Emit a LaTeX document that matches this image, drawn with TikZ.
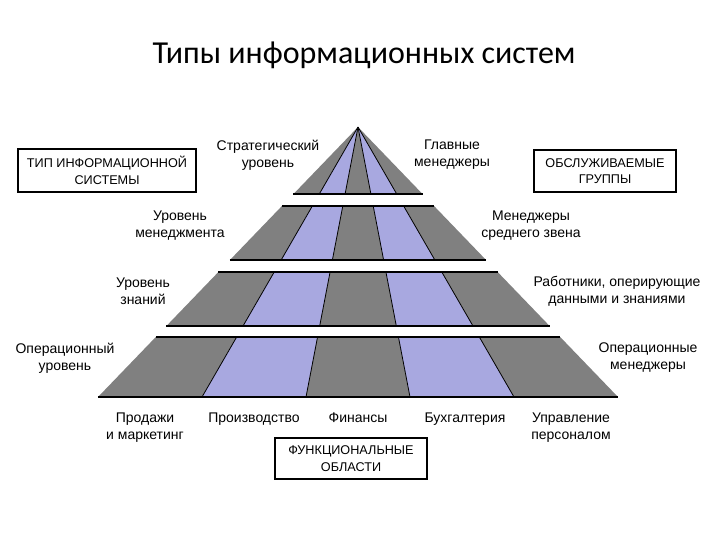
\documentclass[tikz,border=0pt]{standalone}
\usepackage{fontspec}
\setmainfont{Liberation Sans}
\newfontfamily\titlefont{Carlito}
\usetikzlibrary{positioning}
\definecolor{stripegray}{RGB}{128,128,128}
\definecolor{stripeblue}{RGB}{168,168,224}

\begin{document}
\begin{tikzpicture}[x=0.75pt, y=-0.75pt,
        lbl/.style={align=center, inner sep=0pt, font=\fontsize{10.5}{12.75}\selectfont},
        capbox/.style={draw, line width=1pt, align=center, inner sep=0pt,
            font=\fontsize{9.5}{12.5}\selectfont}]
        \useasboundingbox (0,0) rectangle (720,540);
        \coordinate (apex) at (358,127);
        % pyramid sectors
        \foreach \i/\col in {0/stripegray,1/stripeblue,2/stripegray,3/stripeblue,4/stripegray}
            \fill[\col] (apex) -- ({98+104*\i},397) -- ({98+104*(\i+1)},397) -- cycle;
        \foreach \i in {1,...,4}
            \draw[black, line width=0.6pt] (apex) -- ({98+104*\i},397);
        % gaps between levels
        \foreach \ya/\yb in {194/206, 260/272, 326/337}
            \fill[white] (80,\ya) rectangle (640,\yb);
        \foreach \yy in {194,206,260,272,326,337,397}
            \draw[black, line width=0.8pt] ({358-0.963*(\yy-127)},\yy) -- ({358+0.963*(\yy-127)},\yy);
        % title
        \node[font=\titlefont\fontsize{24}{28}\selectfont] (title) at (364,55) {Типы информационных систем};
        % boxes
        \node[capbox, minimum width=133.5pt, minimum height=32.25pt] (typebox) at (107,170.5) {ТИП ИНФОРМАЦИОННОЙ\\СИСТЕМЫ};
        \node[capbox, minimum width=106.5pt, minimum height=31.5pt] (groupbox) at (605,171) {ОБСЛУЖИВАЕМЫЕ\\ГРУППЫ};
        \node[capbox, minimum width=114pt, minimum height=30.75pt] (areabox) at (351,458.5) {ФУНКЦИОНАЛЬНЫЕ\\ОБЛАСТИ};
        % left labels
        \node[lbl] (strat) at (268,155) {Стратегический\\уровень};
        \node[lbl] (manag) at (180,226) {Уровень\\менеджмента};
        \node[lbl] (know) at (143,291) {Уровень\\знаний};
        \node[lbl] (oper) at (65,358) {Операционный\\уровень};
        % right labels
        \node[lbl] (chief) at (452,155) {Главные\\менеджеры};
        \node[lbl] (middle) at (531,226) {Менеджеры\\среднего звена};
        \node[lbl] (workers) at (617,291) {Работники, оперирующие\\данными и знаниями};
        \node[lbl] (opmgr) at (648,358) {Операционные\\менеджеры};
        % functional areas
        \node[lbl, anchor=north] (sales) at (145,413) {Продажи\\и маркетинг};
        \node[lbl, anchor=north] (prod) at (254,413) {Производство};
        \node[lbl, anchor=north] (fin) at (358,413) {Финансы};
        \node[lbl, anchor=north] (acc) at (465,413) {Бухгалтерия};
        \node[lbl, anchor=north] (hr) at (571,413) {Управление\\персоналом};
    \end{tikzpicture}
\end{document}
